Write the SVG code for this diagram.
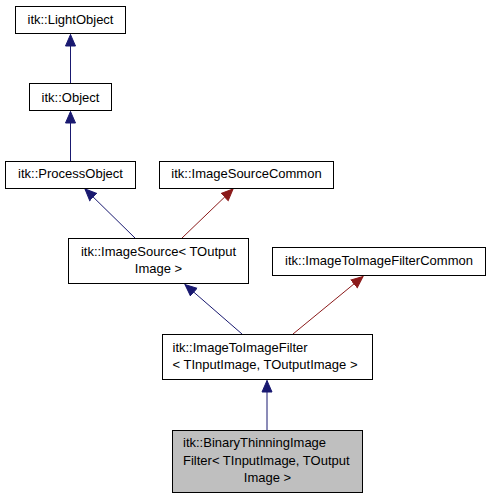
<svg xmlns="http://www.w3.org/2000/svg" width="491" height="499" viewBox="0 0 491 499">
<style>
  .box { fill: #ffffff; stroke: #000000; stroke-width: 1; }
  .sel { fill: #bfbfbf; stroke: #000000; stroke-width: 1; }
  text { font-family: "Liberation Sans", Arial, sans-serif; font-size: 13px; fill: #000000; }
  .c { text-anchor: middle; }
  .l { text-anchor: start; }
  .blue { stroke: #191970; stroke-width: 1; fill: none; }
  .red { stroke: #8b1a1a; stroke-width: 1; fill: none; }
</style>
<defs>
  <marker id="ab" viewBox="-12 -6 13 12" refX="0" refY="0" markerWidth="13" markerHeight="12" markerUnits="userSpaceOnUse" orient="auto">
    <path d="M0,0 L-11.5,-5 L-11.5,5 Z" fill="#191970" stroke="#191970" stroke-width="1"/>
  </marker>
  <marker id="ar" viewBox="-12 -6 13 12" refX="0" refY="0" markerWidth="13" markerHeight="12" markerUnits="userSpaceOnUse" orient="auto">
    <path d="M0,0 L-11.5,-5 L-11.5,5 Z" fill="#8b1a1a" stroke="#8b1a1a" stroke-width="1"/>
  </marker>
</defs>
<rect width="491" height="499" fill="#ffffff"/>
<g id="connectors">
  <line class="blue" x1="70.5" y1="83" x2="70.5" y2="34.5" marker-end="url(#ab)"/>
  <line class="blue" x1="70.5" y1="161" x2="70.5" y2="111.5" marker-end="url(#ab)"/>
  <line class="blue" x1="135" y1="238" x2="85" y2="189" marker-end="url(#ab)"/>
  <line class="red" x1="182" y1="238" x2="233" y2="189" marker-end="url(#ar)"/>
  <line class="blue" x1="242" y1="334" x2="185" y2="284.5" marker-end="url(#ab)"/>
  <line class="red" x1="293" y1="334" x2="363" y2="276.5" marker-end="url(#ar)"/>
  <line class="blue" x1="267" y1="430" x2="267" y2="380.5" marker-end="url(#ab)"/>
</g>
<g id="node-lightobject">
  <rect class="box" x="15.5" y="6.5" width="110" height="27"/>
  <text class="c" x="70.5" y="24">itk::LightObject</text>
</g>
<g id="node-object">
  <rect class="box" x="29.5" y="83.5" width="82" height="27"/>
  <text class="c" x="70.5" y="101.5">itk::Object</text>
</g>
<g id="node-processobject">
  <rect class="box" x="5.5" y="161.5" width="130" height="27"/>
  <text class="c" x="70.5" y="178">itk::ProcessObject</text>
</g>
<g id="node-imagesourcecommon">
  <rect class="box" x="159.5" y="161.5" width="174" height="27"/>
  <text class="c" x="246.5" y="178">itk::ImageSourceCommon</text>
</g>
<g id="node-imagesource">
  <rect class="box" x="68.5" y="238.5" width="180" height="45"/>
  <text class="c" x="158.5" y="256">itk::ImageSource&lt; TOutput</text>
  <text class="c" x="158.5" y="273">Image &gt;</text>
</g>
<g id="node-imagetoimagefiltercommon">
  <rect class="box" x="272.5" y="247.5" width="213" height="28"/>
  <text class="c" x="379" y="265">itk::ImageToImageFilterCommon</text>
</g>
<g id="node-imagetoimagefilter">
  <rect class="box" x="162.5" y="334.5" width="210" height="45"/>
  <text class="l" x="172.5" y="352">itk::ImageToImageFilter</text>
  <text class="l" x="172.5" y="368.5">&lt; TInputImage, TOutputImage &gt;</text>
</g>
<g id="node-binarythinning">
  <rect class="sel" x="172.5" y="430.5" width="190" height="62"/>
  <text class="l" x="183" y="447">itk::BinaryThinningImage</text>
  <text class="l" x="183" y="464.5">Filter&lt; TInputImage, TOutput</text>
  <text class="c" x="267.5" y="482">Image &gt;</text>
</g>
</svg>
